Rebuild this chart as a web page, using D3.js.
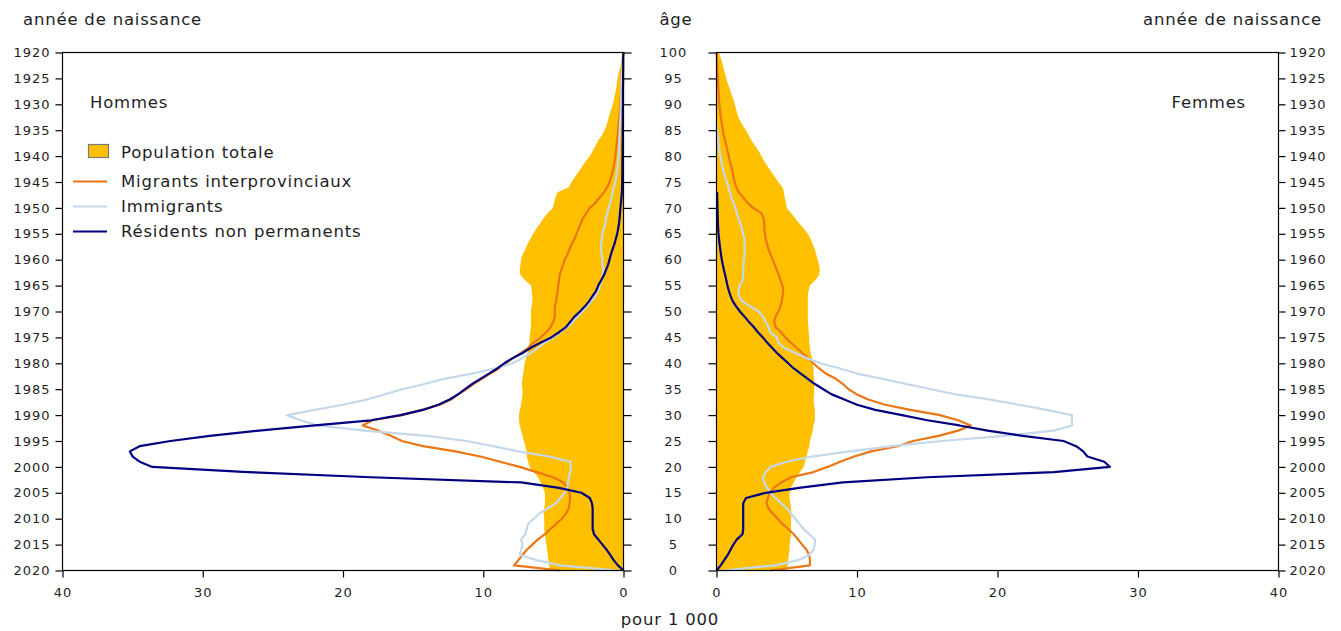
<!DOCTYPE html>
<html>
<head>
<meta charset="utf-8">
<script src="https://cdn.jsdelivr.net/npm/d3@7"></script>
<style>
  html, body { margin: 0; padding: 0; background: #fff; }
  svg { display: block; font-family: "DejaVu Sans", Verdana, sans-serif; }
</style>
</head>
<body>
<svg id="chart" width="1341" height="631"></svg>
<script>
// ---------- DATA (per 1 000, ages 0..100) ----------
const ages = d3.range(0, 101);
const yearTicks = d3.range(1920, 2021, 5);
const ageTicks = d3.range(0, 101, 5);
const valueTicks = [0, 10, 20, 30, 40];

const maleTotal = [5.25,5.3,5.35,5.4,5.45,5.5,5.55,5.6,5.65,5.65,
 5.65,5.7,5.65,5.6,5.6,5.6,5.75,5.9,6.1,6.4,
 6.7,6.8,6.9,6.9,7.0,7.1,7.2,7.3,7.4,7.45,
 7.45,7.4,7.3,7.25,7.2,7.2,7.25,7.2,7.15,7.1,
 7.05,6.95,6.85,6.75,6.7,6.7,6.65,6.6,6.6,6.6,
 6.6,6.55,6.5,6.5,6.55,6.6,7.0,7.35,7.4,7.35,
 7.3,7.2,7.0,6.85,6.65,6.45,6.2,5.95,5.7,5.4,
 5.05,4.95,4.85,4.7,3.9,3.7,3.45,3.2,2.95,2.7,
 2.4,2.2,2.0,1.8,1.55,1.35,1.2,1.1,1.0,0.88,
 0.76,0.68,0.6,0.53,0.47,0.43,0.35,0.25,0.15,0.08,
 0.03];

const maleMigrants = [4.5,7.8,7.5,7.2,6.9,6.5,6.1,5.6,5.2,4.8,
 4.4,4.1,3.9,3.85,3.8,3.85,4.0,4.3,5.0,6.2,
 7.4,8.8,10.2,12.0,14.3,15.8,16.6,17.5,18.6,17.9,
 15.8,14.4,13.1,12.3,11.8,11.2,10.7,10.1,9.5,8.9,
 8.4,7.9,7.3,6.8,6.4,5.9,5.5,5.2,5.0,4.9,
 4.9,4.9,4.8,4.75,4.7,4.65,4.6,4.55,4.45,4.3,
 4.2,4.0,3.85,3.7,3.5,3.35,3.2,3.05,2.9,2.65,
 2.4,2.0,1.7,1.4,1.15,1.0,0.88,0.78,0.7,0.63,
 0.58,0.54,0.5,0.46,0.42,0.4,0.36,0.32,0.28,0.25,
 0.22,0.2,0.18,0.16,0.15,0.14,0.12,0.1,0.08,0.05,
 0.02];

const maleImmigrants = [0.5,4.5,6.2,7.4,7.3,7.2,7.3,7.0,6.9,6.8,
 6.4,6.0,5.4,4.8,4.5,4.2,4.0,3.95,3.9,3.8,
 3.75,3.8,5.3,7.5,9.3,11.2,14.0,18.5,21.8,23.0,
 24.0,22.0,20.0,18.3,17.0,15.8,14.2,12.8,10.8,9.2,
 7.9,7.2,6.6,6.1,5.6,5.0,4.5,4.0,3.6,3.3,
 2.95,2.6,2.3,2.0,1.8,1.7,1.55,1.45,1.45,1.5,
 1.5,1.55,1.6,1.6,1.55,1.5,1.4,1.3,1.25,1.15,
 1.05,0.95,0.85,0.78,0.7,0.6,0.52,0.47,0.42,0.38,
 0.35,0.33,0.31,0.3,0.28,0.27,0.25,0.23,0.21,0.2,
 0.18,0.17,0.16,0.15,0.14,0.13,0.1,0.08,0.06,0.04,
 0.02];

const maleNonPermanent = [0,0.4,0.7,0.95,1.2,1.5,1.8,2.1,2.2,2.2,
 2.2,2.2,2.2,2.25,2.4,3.0,4.7,7.3,18.0,26.8,
 33.6,34.5,35.0,35.2,34.5,32.3,29.5,26.0,22.0,18.0,
 15.9,14.3,13.2,12.4,11.8,11.3,10.8,10.2,9.6,9.0,
 8.5,7.9,7.2,6.6,5.9,5.15,4.6,4.1,3.8,3.5,
 3.1,2.75,2.45,2.2,1.95,1.8,1.6,1.4,1.25,1.1,
 1.0,0.9,0.78,0.65,0.55,0.45,0.38,0.32,0.28,0.25,
 0.22,0.18,0.15,0.12,0.1,0.09,0.09,0.08,0.08,0.08,
 0.07,0.07,0.07,0.06,0.06,0.06,0.05,0.05,0.05,0.05,
 0.04,0.04,0.04,0.04,0.03,0.03,0.03,0.02,0.02,0.02,
 0.01];

const femaleTotal = [5.0,5.05,5.1,5.15,5.2,5.2,5.25,5.3,5.3,5.3,
 5.3,5.35,5.3,5.25,5.2,5.2,5.3,5.5,5.7,5.95,
 6.2,6.3,6.4,6.5,6.6,6.65,6.75,6.85,6.9,7.0,
 7.0,7.0,6.95,6.9,6.95,6.95,6.95,6.95,6.9,6.9,
 6.85,6.8,6.7,6.65,6.6,6.6,6.55,6.55,6.5,6.5,
 6.5,6.5,6.5,6.5,6.55,6.65,7.0,7.3,7.35,7.3,
 7.2,7.1,7.0,6.85,6.7,6.5,6.2,5.9,5.6,5.3,
 5.0,4.95,4.85,4.8,4.7,4.4,4.15,3.9,3.65,3.4,
 3.2,3.0,2.75,2.5,2.3,2.1,1.85,1.65,1.5,1.4,
 1.3,1.2,1.05,0.95,0.8,0.7,0.6,0.5,0.4,0.3,
 0.17];

const femaleMigrants = [3.8,6.65,6.65,6.6,6.4,6.1,5.8,5.5,5.1,4.7,
 4.35,4.0,3.7,3.55,3.65,3.8,4.1,4.6,5.3,6.9,
 7.9,8.8,9.8,11.0,12.9,14.0,15.8,17.2,18.1,17.2,
 15.9,13.8,12.0,10.8,10.0,9.4,9.0,8.5,7.8,7.3,
 6.9,6.5,6.1,5.7,5.3,4.9,4.6,4.2,4.1,4.2,
 4.4,4.55,4.65,4.7,4.75,4.7,4.55,4.45,4.3,4.15,
 4.0,3.85,3.7,3.6,3.5,3.45,3.4,3.4,3.35,3.2,
 2.6,2.2,1.9,1.6,1.4,1.3,1.2,1.15,1.05,0.95,
 0.88,0.78,0.7,0.6,0.52,0.45,0.4,0.33,0.28,0.24,
 0.2,0.18,0.16,0.14,0.12,0.1,0.08,0.06,0.05,0.03,
 0.02];

const femaleImmigrants = [0.5,4.2,5.8,6.6,6.9,7.0,7.0,6.6,6.2,5.9,
 5.6,5.3,5.0,4.6,4.2,3.8,3.6,3.4,3.3,3.5,
 3.85,5.0,6.8,9.5,12.5,16.0,20.5,24.0,25.3,25.3,
 25.3,23.5,21.5,19.5,17.0,15.3,13.5,11.8,10.0,8.8,
 7.4,6.4,5.6,4.8,4.4,4.3,3.8,3.7,3.5,3.3,
 3.0,2.4,1.8,1.6,1.55,1.65,1.85,1.9,1.9,1.9,
 1.95,2.0,2.0,2.0,1.98,1.9,1.8,1.7,1.55,1.45,
 1.35,1.2,1.05,0.95,0.85,0.75,0.62,0.5,0.42,0.35,
 0.28,0.22,0.16,0.12,0.08,0.04,0.0,null,null,null,
 null,null,null,null,null,null,null,null,null,null,
 null];

const femaleNonPermanent = [0,0.3,0.55,0.8,1.0,1.2,1.45,1.85,1.9,1.9,
 1.9,1.9,1.9,1.9,2.1,3.5,6.0,9.0,15.0,24.0,
 28.0,27.6,26.4,26.1,25.6,24.7,21.8,19.3,17.3,15.0,
 13.2,11.3,10.0,9.1,8.2,7.6,7.0,6.5,6.0,5.5,
 5.1,4.7,4.3,3.95,3.6,3.3,2.95,2.65,2.3,2.0,
 1.67,1.4,1.15,1.0,0.88,0.78,0.7,0.62,0.53,0.45,
 0.38,0.32,0.27,0.22,0.18,0.14,0.12,0.1,0.09,0.08,
 0.07,0.06,0.05,0.05,null,null,null,null,null,null,
 null,null,null,null,null,null,null,null,null,null,
 null,null,null,null,null,null,null,null,null,null,
 null];

const seriesNames = ["Population totale", "Migrants interprovinciaux", "Immigrants", "Résidents non permanents"];
const colors = { total: "#FFC000", mig: "#EC7514", imm: "#C5D8EA", rnp: "#000080" };

// ---------- LAYOUT ----------
const svg = d3.select("#chart");
const yAge = d3.scaleLinear().domain([0, 100]).range([570.5, 52.5]);
const yYear = d3.scaleLinear().domain([2020, 1920]).range([570.5, 52.5]);
const xL = d3.scaleLinear().domain([40, 0]).range([62.5, 623.5]);
const xR = d3.scaleLinear().domain([0, 40]).range([716.5, 1278.5]);
const textColor = "#1e1e1e";

function drawPanel(x, total, mig, imm, rnp) {
  const g = svg.append("g");
  const area = d3.area()
    .x0(() => x(0))
    .x1((d, i) => x(total[i]))
    .y((d, i) => yAge(ages[i]));
  g.append("path").datum(ages).attr("d", area).attr("fill", colors.total);
  return g;
}
function drawLines(g, x, mig, imm, rnp) {
  const mk = arr => d3.line()
    .defined((d, i) => arr[i] != null)
    .x((d, i) => x(arr[i]))
    .y((d, i) => yAge(ages[i]));
  [[mig, colors.mig], [imm, colors.imm], [rnp, colors.rnp]].forEach(([arr, c]) => {
    g.append("path").datum(ages).attr("d", mk(arr))
      .attr("fill", "none").attr("stroke", c).attr("stroke-width", 2.2)
      .attr("stroke-linejoin", "round");
  });
}

const gL = drawPanel(xL, maleTotal);
const gR = drawPanel(xR, femaleTotal);

// panel boxes
svg.append("rect").attr("x", 62.5).attr("y", 52.5).attr("width", 561).attr("height", 518)
  .attr("fill", "none").attr("stroke", "#000").attr("stroke-width", 1.2);
svg.append("rect").attr("x", 716.5).attr("y", 52.5).attr("width", 562).attr("height", 518)
  .attr("fill", "none").attr("stroke", "#000").attr("stroke-width", 1.2);

drawLines(gL.raise(), xL, maleMigrants, maleImmigrants, maleNonPermanent);
drawLines(gR.raise(), xR, femaleMigrants, femaleImmigrants, femaleNonPermanent);
gL.lower(); gR.lower();

function styleAxis(sel) {
  sel.select(".domain").remove();
  sel.selectAll(".tick line").attr("stroke", "#000").attr("stroke-width", 1.2);
  sel.selectAll(".tick text").attr("fill", textColor).style("font-size", "13px")
    .style("letter-spacing", "1px").style("font-family", '"DejaVu Sans", Verdana, sans-serif');
}

// year axes
svg.append("g").attr("transform", "translate(62.5,0)")
  .call(d3.axisLeft(yYear).tickValues(yearTicks).tickFormat(d3.format("d")).tickSize(7).tickPadding(5))
  .call(styleAxis);
svg.append("g").attr("transform", "translate(1278.5,0)")
  .call(d3.axisRight(yYear).tickValues(yearTicks).tickFormat(d3.format("d")).tickSize(7).tickPadding(4))
  .call(styleAxis);

// age axis (middle)
svg.append("g").attr("transform", "translate(623.5,0)")
  .call(d3.axisRight(yAge).tickValues(ageTicks).tickFormat(d3.format("d")).tickSize(8).tickPadding(0))
  .call(styleAxis)
  .call(g => g.selectAll(".tick text").attr("x", 50).attr("text-anchor", "middle"));
svg.append("g").attr("transform", "translate(716.5,0)")
  .call(d3.axisLeft(yAge).tickValues(ageTicks).tickFormat("").tickSize(8))
  .call(styleAxis);

// value axes
svg.append("g").attr("transform", "translate(0,570.5)")
  .call(d3.axisBottom(xL).tickValues(valueTicks).tickFormat(d3.format("d")).tickSize(7).tickPadding(10))
  .call(styleAxis);
svg.append("g").attr("transform", "translate(0,570.5)")
  .call(d3.axisBottom(xR).tickValues(valueTicks).tickFormat(d3.format("d")).tickSize(7).tickPadding(10))
  .call(styleAxis);

// titles
function label(txt, x, y, anchor, size) {
  svg.append("text").attr("x", x).attr("y", y).attr("text-anchor", anchor || "start")
    .attr("fill", textColor).style("font-size", (size || 16.5) + "px").style("letter-spacing", "0.8px")
    .text(txt);
}
label("année de naissance", 23, 25);
label("âge", 676, 25, "middle");
label("année de naissance", 1322, 25, "end");
label("pour 1 000", 670, 625, "middle");
label("Hommes", 90, 108);
label("Femmes", 1246, 108, "end");

// legend
const lg = svg.append("g");
lg.append("rect").attr("x", 88.5).attr("y", 144.5).attr("width", 20).attr("height", 13)
  .attr("fill", colors.total).attr("stroke", "#7a7a7a").attr("stroke-width", 1.2);
label(seriesNames[0], 121, 158);
[[colors.mig, 181.5], [colors.imm, 206.5], [colors.rnp, 231.5]].forEach(([c, y], i) => {
  lg.append("line").attr("x1", 73).attr("x2", 107).attr("y1", y).attr("y2", y)
    .attr("stroke", c).attr("stroke-width", 2);
  label(seriesNames[i + 1], 121, y + 5.5);
});
</script>
</body>
</html>
